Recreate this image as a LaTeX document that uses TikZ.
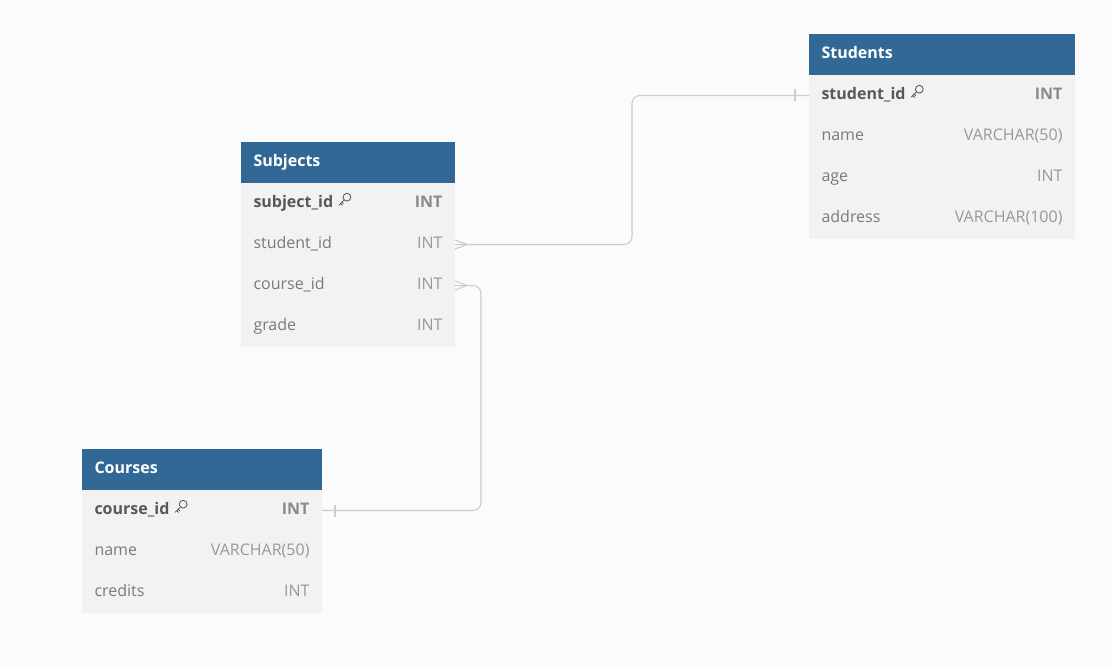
\documentclass[tikz,border=0pt]{standalone}
\usepackage{fontspec}
\setmainfont{Open Sans}
\usepackage{tikz}
\usetikzlibrary{positioning}

\definecolor{headblue}{RGB}{49,104,150}
\definecolor{rowgray}{RGB}{242,242,242}
\definecolor{pagegray}{RGB}{251,251,251}
\definecolor{linkgray}{RGB}{204,204,204}
\definecolor{keytext}{RGB}{88,88,88}
\definecolor{nametext}{RGB}{122,122,122}
\definecolor{typetext}{RGB}{152,152,152}
\definecolor{keytype}{RGB}{138,138,138}

\newsavebox\keybox
\sbox\keybox{\tikz[x=1pt,y=1pt,baseline=-1.5pt,line width=0.85pt,draw=keytext,line cap=round]{
\draw (8.8,8.8) circle (3.9);
\draw (6,6) -- (0.8,0.8);
\draw (2.4,2.4) -- (4.2,0.6);
\draw (3.8,3.8) -- (5.2,2.4);}}

\begin{document}
\begin{tikzpicture}[x=1pt,y=-1pt,node distance=0pt,
  every node/.style={font=\fontsize{16}{19}\selectfont,outer sep=0pt}]
\tikzstyle{head}=[fill=headblue,text=white,font=\fontsize{16}{19}\selectfont\bfseries,minimum height=41pt,inner xsep=12.5pt,inner ysep=0pt,text height=12pt,text depth=4pt,align=left]
\tikzstyle{row}=[fill=rowgray,text=typetext,minimum height=41pt,inner xsep=12.5pt,inner ysep=0pt,text height=12pt,text depth=4pt,align=left]
\tikzstyle{link}=[draw=linkgray,line width=1.1pt]
\fill[pagegray] (0,0) rectangle (1111,668);

\begin{scope}[every node/.append style={text width=241pt}]
\node[head,anchor=north west] (stu-head) at (809,34) {Students};
\node[row] (stu-id) [below=of stu-head] {\textbf{\color{keytext}student\_id}~\usebox\keybox\hfill\textbf{\color{keytype}INT}};
\node[row] (stu-name) [below=of stu-id] {\color{nametext}name\hfill\color{typetext}VARCHAR(50)};
\node[row] (stu-age) [below=of stu-name] {\color{nametext}age\hfill\color{typetext}INT};
\node[row] (stu-addr) [below=of stu-age] {\color{nametext}address\hfill\color{typetext}VARCHAR(100)};
\end{scope}

\begin{scope}[every node/.append style={text width=189pt}]
\node[head,anchor=north west] (sub-head) at (241,142) {Subjects};
\node[row] (sub-id) [below=of sub-head] {\textbf{\color{keytext}subject\_id}~\usebox\keybox\hfill\textbf{\color{keytype}INT}};
\node[row] (sub-stu) [below=of sub-id] {\color{nametext}student\_id\hfill\color{typetext}INT};
\node[row] (sub-crs) [below=of sub-stu] {\color{nametext}course\_id\hfill\color{typetext}INT};
\node[row] (sub-grade) [below=of sub-crs] {\color{nametext}grade\hfill\color{typetext}INT};
\end{scope}

\begin{scope}[every node/.append style={text width=215pt}]
\node[head,anchor=north west] (crs-head) at (82,449) {Courses};
\node[row] (crs-id) [below=of crs-head] {\textbf{\color{keytext}course\_id}~\usebox\keybox\hfill\textbf{\color{keytype}INT}};
\node[row] (crs-name) [below=of crs-id] {\color{nametext}name\hfill\color{typetext}VARCHAR(50)};
\node[row] (crs-cred) [below=of crs-name] {\color{nametext}credits\hfill\color{typetext}INT};
\end{scope}

\draw[link,rounded corners=8pt] (sub-stu.east) -- ++(177,0) |- (stu-id.west);
\draw[link] ([yshift=4.5pt]sub-stu.east) -- ([xshift=12pt]sub-stu.east) -- ([yshift=-4.5pt]sub-stu.east);
\draw[link] ([xshift=-14pt,yshift=6pt]stu-id.west) -- ([xshift=-14pt,yshift=-6pt]stu-id.west);

\draw[link,rounded corners=8pt] (sub-crs.east) -- ++(26,0) |- (crs-id.east);
\draw[link] ([yshift=4.5pt]sub-crs.east) -- ([xshift=12pt]sub-crs.east) -- ([yshift=-4.5pt]sub-crs.east);
\draw[link] ([xshift=13pt,yshift=6pt]crs-id.east) -- ([xshift=13pt,yshift=-6pt]crs-id.east);
\end{tikzpicture}
\end{document}
